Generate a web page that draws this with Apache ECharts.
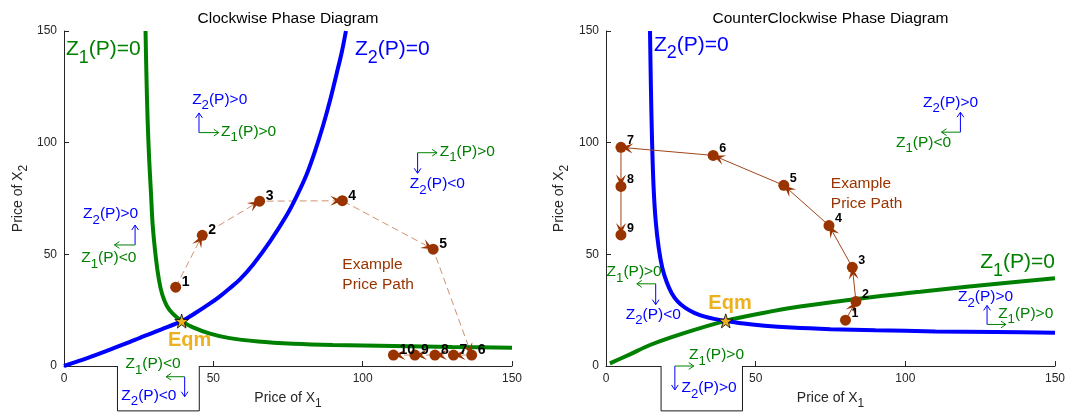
<!DOCTYPE html>
<html>
<head>
<meta charset="utf-8">
<script src="https://cdn.jsdelivr.net/npm/echarts@6.0.0/dist/echarts.min.js"></script>
<style>
  html, body { margin: 0; padding: 0; background: #ffffff; }
  #chart { width: 1069px; height: 412px; }
</style>
</head>
<body>
<div id="chart"></div>
<script>
// ---------------- data ----------------
const axisTicks = [0, 50, 100, 150];

const titles = ['Clockwise Phase Diagram', 'CounterClockwise Phase Diagram'];
const xAxisTitle = 'Price of X_1';
const yAxisTitle = 'Price of X_2';

// Clockwise panel: nullclines [price of X1, price of X2]
const cwZ1Curve = [[27.3,150],[27.6,130],[28.0,110],[28.5,93],[29.1,78],[29.7,63],[30.8,48],[31.8,38.5],
  [32.9,32.0],[34.4,27.0],[36.5,23.3],[39.4,20.1],[43.0,17.4],[48.9,14.5],[55.0,12.6],[65.0,11.0],
  [76.8,10.0],[90.0,9.4],[110.3,8.9],[130.0,8.5],[150.0,8.2]];
const cwZ2Curve = [[0,0],[8,3.6],[15.4,7.3],[21,10.2],[26.6,13.3],[33.0,16.6],[39.4,20.1],[44.0,23.7],
  [48.9,28.0],[52.2,31.2],[55.5,34.8],[58.9,38.8],[63.4,45.6],[69.0,55.8],[74.6,67.6],[78.0,76.3],
  [81.3,86.0],[84.0,96.0],[86.8,107.9],[89.0,118.5],[91.3,131.0],[93.0,140.5],[94.4,150.0]];
const cwEqm = [39.4, 20.1];
const cwPathX = [37.4, 46.3, 65.5, 93.2, 123.6, 136.5, 130.4, 124.2, 117.5, 110.3];
const cwPathY = [35.3, 58.5, 73.8, 74.0, 52.3, 4.9, 4.9, 4.9, 4.9, 4.9];

// Counter-clockwise panel
const ccwZ2Curve = [[14.7,150],[15.0,125],[15.4,100],[15.9,80],[16.6,65],[17.6,53],[18.8,44],[20.3,37.5],
  [22.0,32.5],[24.0,28.8],[26.5,26.0],[29.5,23.8],[33.0,22.1],[36.5,21.0],[40.0,20.2],[46.0,19.0],
  [53.0,18.0],[62.0,17.2],[75.0,16.5],[90.0,16.0],[110.0,15.5],[130.0,15.2],[150.0,14.9]];
const ccwZ1Curve = [[1.3,1.2],[8.0,5.2],[14.7,9.4],[25.8,14.6],[40.0,20.2],[52.0,23.6],[64.8,26.6],
  [87.1,30.6],[105.0,33.2],[120.5,35.5],[150.0,39.3]];
const ccwEqm = [40.0, 20.2];
const ccwPathX = [80.0, 83.5, 82.3, 74.5, 59.4, 35.8, 5.0, 5.0, 5.0];
const ccwPathY = [20.5, 28.9, 44.2, 62.9, 80.9, 94.3, 97.9, 80.4, 58.7];

// ---------------- styling ----------------
const FONT = '"Liberation Sans", Arial, Helvetica, sans-serif';
const AXIS_COLOR = '#262626';
const BLUE = '#0000ff';
const GREEN = '#008000';
const BROWN = '#993300';
const DASH_BROWN = '#cf9271';
const GOLD = '#EDB120';
const STAR = 'path://M50,0 L61.8,35.1 L98.9,35.1 L69.1,57.3 L80.3,92.7 L50,70.5 L19.7,92.7 L30.9,57.3 L1.1,35.1 L38.2,35.1 Z';

const chart = echarts.init(document.getElementById('chart'), null, { renderer: 'canvas', width: 1069, height: 412 });

const zip = (xs, ys) => xs.map((x, i) => [x, ys[i]]);

function makeAxis(g) {
  return {
    type: 'value', gridIndex: g,
    min: axisTicks[0], max: axisTicks[axisTicks.length - 1], interval: axisTicks[1] - axisTicks[0],
    axisLine: { show: true, onZero: false, lineStyle: { color: AXIS_COLOR, width: 1 } },
    axisTick: { show: true, inside: true, length: 5, lineStyle: { color: AXIS_COLOR } },
    axisLabel: { color: AXIS_COLOR, fontSize: 12, fontFamily: FONT, margin: 7 },
    splitLine: { show: false }
  };
}

function curve(g, data, color, z) {
  return { type: 'line', xAxisIndex: g, yAxisIndex: g, data: data, showSymbol: false, symbol: 'none',
    smooth: 0.3, lineStyle: { color: color, width: 4 }, z: z, silent: true };
}

function pathLine(g, xs, ys, style, z) {
  return { type: 'line', xAxisIndex: g, yAxisIndex: g, data: zip(xs, ys), showSymbol: false, symbol: 'none',
    lineStyle: style, z: z, silent: true };
}

function pathPoints(g, xs, ys, fontSize, offsetY) {
  return { type: 'scatter', xAxisIndex: g, yAxisIndex: g, data: zip(xs, ys), symbol: 'circle', symbolSize: 11,
    itemStyle: { color: BROWN, opacity: 1 }, z: 6, silent: true,
    label: { show: true, position: 'right', distance: 0.5, offset: [0, offsetY],
      formatter: p => String(p.dataIndex + 1), fontSize: fontSize, fontWeight: 'bold',
      color: '#000', fontFamily: FONT } };
}

// arrowheads at the end of every step of a price path
function pathArrows(g, xs, ys) {
  const segs = [];
  for (let i = 1; i < xs.length; i++) segs.push([xs[i - 1], ys[i - 1], xs[i], ys[i]]);
  return {
    type: 'custom', xAxisIndex: g, yAxisIndex: g, data: segs, z: 5, silent: true, clip: false,
    encode: { x: [0, 2], y: [1, 3] },
    renderItem: function (params, api) {
      const a = api.coord([api.value(0), api.value(1)]);
      const b = api.coord([api.value(2), api.value(3)]);
      let dx = b[0] - a[0], dy = b[1] - a[1];
      const len = Math.hypot(dx, dy) || 1; dx /= len; dy /= len;
      const nx = -dy, ny = dx, L = 12, W = 5, N = 7;
      return { type: 'polygon', shape: { points: [
        [b[0], b[1]],
        [b[0] - dx * L + nx * W, b[1] - dy * L + ny * W],
        [b[0] - dx * N, b[1] - dy * N],
        [b[0] - dx * L - nx * W, b[1] - dy * L - ny * W]] },
        style: { fill: BROWN } };
    }
  };
}

function eqmStar(g, p) {
  return { type: 'scatter', xAxisIndex: g, yAxisIndex: g, data: [p], symbol: STAR, symbolSize: 14,
    itemStyle: { color: GOLD, borderColor: '#000', borderWidth: 0.8, opacity: 1 }, z: 7, silent: true };
}

chart.setOption({
  animation: false,
  backgroundColor: '#ffffff',
  grid: [
    { left: 64, top: 31, width: 448, height: 335, outerBoundsMode: 'none' },
    { left: 606, top: 31, width: 449, height: 335, outerBoundsMode: 'none' }
  ],
  xAxis: [makeAxis(0), makeAxis(1)],
  yAxis: [makeAxis(0), makeAxis(1)],
  series: [
    pathLine(0, cwPathX, cwPathY, { color: DASH_BROWN, width: 1, type: [7, 4] }, 1),
    curve(0, cwZ1Curve, GREEN, 2),
    curve(0, cwZ2Curve, BLUE, 3),
    pathArrows(0, cwPathX, cwPathY),
    pathPoints(0, cwPathX, cwPathY, 14, -5),
    eqmStar(0, cwEqm),

    curve(1, ccwZ1Curve, GREEN, 2),
    curve(1, ccwZ2Curve, BLUE, 3),
    pathLine(1, ccwPathX, ccwPathY, { color: '#a0451a', width: 1 }, 4),
    pathArrows(1, ccwPathX, ccwPathY),
    pathPoints(1, ccwPathX, ccwPathY, 12.5, -6.5),
    eqmStar(1, ccwEqm)
  ]
});

// ---------------- annotations (anchored in data coordinates) ----------------
// text anchors are [left edge, cap top]
const SMALL = 15.5, BIG = 21;
const labelNotes = [
  { g: 0, at: [0.67, 145.2], t: 'Z_1(P)=0', size: BIG, color: GREEN },
  { g: 0, at: [97.4, 145.2], t: 'Z_2(P)=0', size: BIG, color: BLUE },
  { g: 0, at: [42.9, 121.8], t: 'Z_2(P)>0', size: SMALL, color: BLUE },
  { g: 0, at: [52.6, 107.5], t: 'Z_1(P)>0', size: SMALL, color: GREEN },
  { g: 0, at: [125.8, 98.6], t: 'Z_1(P)>0', size: SMALL, color: GREEN },
  { g: 0, at: [115.8, 84.0], t: 'Z_2(P)<0', size: SMALL, color: BLUE },
  { g: 0, at: [6.4, 70.6], t: 'Z_2(P)>0', size: SMALL, color: BLUE },
  { g: 0, at: [5.8, 50.9], t: 'Z_1(P)<0', size: SMALL, color: GREEN },
  { g: 0, at: [20.6, 3.4], t: 'Z_1(P)<0', size: SMALL, color: GREEN },
  { g: 0, at: [19.2, -10.7], t: 'Z_2(P)<0', size: SMALL, color: BLUE },

  { g: 1, at: [16.0, 147.2], t: 'Z_2(P)=0', size: BIG, color: BLUE },
  { g: 1, at: [105.9, 120.4], t: 'Z_2(P)>0', size: SMALL, color: BLUE },
  { g: 1, at: [96.9, 102.5], t: 'Z_1(P)<0', size: SMALL, color: GREEN },
  { g: 1, at: [125.0, 49.7], t: 'Z_1(P)=0', size: BIG, color: GREEN },
  { g: 1, at: [0.2, 44.7], t: 'Z_1(P)>0', size: SMALL, color: GREEN },
  { g: 1, at: [6.6, 25.6], t: 'Z_2(P)<0', size: SMALL, color: BLUE },
  { g: 1, at: [117.6, 33.4], t: 'Z_2(P)>0', size: SMALL, color: BLUE },
  { g: 1, at: [131.0, 26.1], t: 'Z_1(P)>0', size: SMALL, color: GREEN },
  { g: 1, at: [27.7, 7.4], t: 'Z_1(P)>0', size: SMALL, color: GREEN },
  { g: 1, at: [25.2, -7.4], t: 'Z_2(P)>0', size: SMALL, color: BLUE }
];
// direction arrows: [grid, corner, vertical end, horizontal end]
const arrowNotes = [
  [0, [45.2, 104.5], [45.2, 113.3], [51.8, 104.5]],
  [0, [118.4, 95.5], [118.4, 86.3], [124.9, 95.5]],
  [0, [23.8, 54.2], [23.8, 63.1], [16.9, 54.2]],
  [0, [40.4, -4.8], [40.4, -13.7], [34.2, -4.8]],
  [1, [118.4, 104.7], [118.4, 113.6], [112.1, 104.7]],
  [1, [16.6, 36.8], [16.6, 27.5], [10.3, 36.8]],
  [1, [127.3, 18.6], [127.3, 27.1], [133.6, 18.6]],
  [1, [23.0, 0], [23.0, -10.7], [29.3, 0]]
];
const pathNotes = [{ g: 0, at: [93.2, 47.8] }, { g: 1, at: [75.1, 84.2] }];
const eqmNotes = [{ g: 0, at: [34.8, 14.6] }, { g: 1, at: [34.2, 31.3] }];
const insetBoxes = [{ g: 0, x: [17.9, 45.3], bottom: -20.1 }, { g: 1, x: [18.4, 45.6], bottom: -20.1 }];

const toPx = (g, p) => chart.convertToPixel({ gridIndex: g }, p);

function subText(t) {
  // 'Z_1(P)=0' -> rich text with a subscript token
  const m = t.match(/^(.*)_(.)(.*)$/);
  if (!m) return '{m|' + t + '}';
  return '{m|' + m[1] + '}{s|' + m[2] + '}' + (m[3] ? '{m|' + m[3] + '}' : '');
}

function richText(x, y, t, size, color, extra) {
  return Object.assign({
    type: 'text', x: x, y: y - 0.142 * size, z: 60, silent: true,
    style: {
      text: subText(t), align: 'left', verticalAlign: 'top', fill: color,
      rich: {
        m: { fontSize: size, height: size, lineHeight: size, verticalAlign: 'top', fontFamily: FONT, fill: color },
        s: { fontSize: size * 0.85, height: size * 1.8, lineHeight: size * 1.8, verticalAlign: 'top', fontFamily: FONT, fill: color }
      }
    }
  }, extra || {});
}

function openArrow(a, b, color) {
  const ang = Math.atan2(b[1] - a[1], b[0] - a[0]), h = 6, sp = 0.6;
  return [
    { type: 'polyline', z: 60, silent: true, shape: { points: [a, b] }, style: { stroke: color, lineWidth: 1, fill: null } },
    { type: 'polyline', z: 60, silent: true,
      shape: { points: [[b[0] - h * Math.cos(ang - sp), b[1] - h * Math.sin(ang - sp)], b,
                        [b[0] - h * Math.cos(ang + sp), b[1] - h * Math.sin(ang + sp)]] },
      style: { stroke: color, lineWidth: 1, fill: null } }
  ];
}

function buildGraphics() {
  const els = [];
  // inset boxes below the axis
  insetBoxes.forEach(b => {
    const p0 = toPx(b.g, [b.x[0], 0]), p1 = toPx(b.g, [b.x[1], b.bottom]);
    els.push({ type: 'rect', z: 40, silent: true, shape: { x: p0[0], y: p0[1] - 2, width: p1[0] - p0[0], height: p1[1] - p0[1] + 2 },
      style: { fill: '#ffffff' } });
    els.push({ type: 'polyline', z: 41, silent: true,
      shape: { points: [[p0[0], p0[1]], [p0[0], p1[1]], [p1[0], p1[1]], [p1[0], p0[1]]] },
      style: { stroke: '#1a1a1a', lineWidth: 1, fill: null } });
  });
  labelNotes.forEach(n => {
    const p = toPx(n.g, n.at);
    els.push(richText(p[0], p[1], n.t, n.size, n.color));
  });
  arrowNotes.forEach(a => {
    const c = toPx(a[0], a[1]), v = toPx(a[0], a[2]), h = toPx(a[0], a[3]);
    openArrow(c, v, BLUE).forEach(e => els.push(e));
    openArrow(c, h, GREEN).forEach(e => els.push(e));
  });
  pathNotes.forEach(n => {
    const p = toPx(n.g, n.at);
    els.push({ type: 'text', x: p[0], y: p[1] - 4.6, z: 60, silent: true,
      style: { text: 'Example\nPrice Path', fontSize: SMALL, lineHeight: 20.3, fontFamily: FONT, fill: BROWN,
        align: 'left', verticalAlign: 'top' } });
  });
  eqmNotes.forEach(n => {
    const p = toPx(n.g, n.at);
    els.push({ type: 'text', x: p[0], y: p[1] + 0.358 * 20, z: 60, silent: true,
      style: { text: 'Eqm', fontSize: 20, fontWeight: 'bold', fontFamily: FONT, fill: GOLD,
        align: 'left', verticalAlign: 'middle' } });
  });
  // panel titles and axis names
  [0, 1].forEach(g => {
    const t = toPx(g, [75, 155.7]);
    els.push({ type: 'text', x: t[0], y: t[1], z: 60, silent: true,
      style: { text: titles[g], fontSize: 15.5, fontFamily: FONT, fill: '#000000', align: 'center', verticalAlign: 'middle' } });
    const xn = toPx(g, [75, -12.2]);
    const xEl = richText(xn[0], xn[1], xAxisTitle, 14, AXIS_COLOR, {});
    xEl.style.align = 'center';
    els.push(xEl);
    const yn = toPx(g, [g === 0 ? -17.2 : -17.3, 75]);
    const yEl = richText(yn[0], yn[1], yAxisTitle, 14, AXIS_COLOR, {});
    yEl.x = yn[0] - 0.142 * 14;
    yEl.y = yn[1];
    yEl.rotation = Math.PI / 2;
    yEl.style.align = 'center';
    els.push(yEl);
  });
  chart.setOption({ graphic: { elements: els } });
}
buildGraphics();
</script>
</body>
</html>
